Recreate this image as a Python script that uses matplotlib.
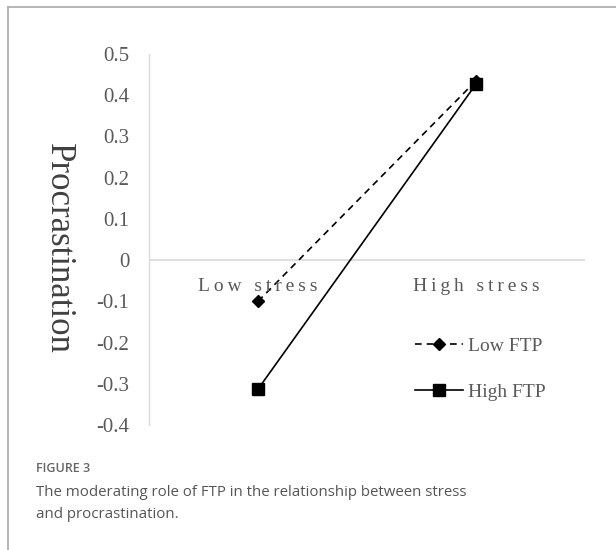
import matplotlib.pyplot as plt
from matplotlib.lines import Line2D

# --- data ---
categorias = ['Low stress', 'High stress']
low_ftp = [-0.10, 0.435]
high_ftp = [-0.313, 0.427]
ticks_y = [0.5, 0.4, 0.3, 0.2, 0.1, 0, -0.1, -0.2, -0.3, -0.4]
series = ['Low FTP', 'High FTP']

serif = ['Liberation Serif', 'DejaVu Serif']
gris = '#595959'

fig = plt.figure(figsize=(6.16, 5.5), dpi=100)
ax = fig.add_axes([149 / 616, 1 - 425 / 550, 436 / 616, 371 / 550])

x_pos = [0.5, 1.5]
ax.plot(x_pos, low_ftp, color='black', lw=1.2, linestyle=(0, (4, 3)),
        marker='D', markersize=6.5, label=series[0])
ax.plot(x_pos, high_ftp, color='black', lw=1.2, linestyle='-',
        marker='s', markersize=9, label=series[1])

ax.set_xlim(0, 2)
ax.set_ylim(-0.4, 0.5)
ax.set_yticks(ticks_y)
ax.set_yticklabels([f'{t:g}' for t in ticks_y], family=serif, fontsize=15, color=gris)
ax.set_xticks([])
ax.tick_params(axis='y', length=0, pad=14)
for s in ['top', 'right', 'bottom']:
    ax.spines[s].set_visible(False)
ax.spines['left'].set_color('#d9d9d9')
ax.spines['left'].set_linewidth(1.0)
ax.axhline(0, color='#d9d9d9', lw=1.2, zorder=0)

# etiquetas de categoría debajo de la línea del cero
for xp, c in zip(x_pos, categorias):
    ax.text(xp, -0.065, '\u2009'.join(c), ha='center', va='center',
            family=serif, fontsize=14, color=gris)

ax.set_ylabel('Procrastination', family=serif, fontsize=25, color='#404040',
              rotation=270, va='center', ha='center')
ax.yaxis.set_label_coords(-0.208, 0.477)

leg = ax.legend(loc='center left', bbox_to_anchor=(0.61, 0.151), frameon=False,
                prop={'family': serif, 'size': 14}, handlelength=2.45,
                handletextpad=0.3, labelspacing=1.45, labelcolor=gris,
                borderaxespad=0, borderpad=0)

# marco de la figura
fig.add_artist(Line2D([8 / 616, 1], [1 - 7 / 550] * 2, color='#b0b0b0', lw=1.3))
fig.add_artist(Line2D([8 / 616] * 2, [0, 1 - 7 / 550], color='#b0b0b0', lw=1.3))

# pie de figura
fig.text(36 / 616, 1 - 468 / 550, 'FIGURE 3', family='Open Sans', fontsize=9,
         fontweight='semibold', color='#666666', va='center')
fig.text(36 / 616, 1 - 492 / 550, 'The moderating role of FTP in the relationship between stress',
         family='Open Sans', fontsize=10.8, color='#555555', va='center')
fig.text(36 / 616, 1 - 515 / 550, 'and procrastination.',
         family='Open Sans', fontsize=10.8, color='#555555', va='center')

fig.savefig('out.png', dpi=100)
